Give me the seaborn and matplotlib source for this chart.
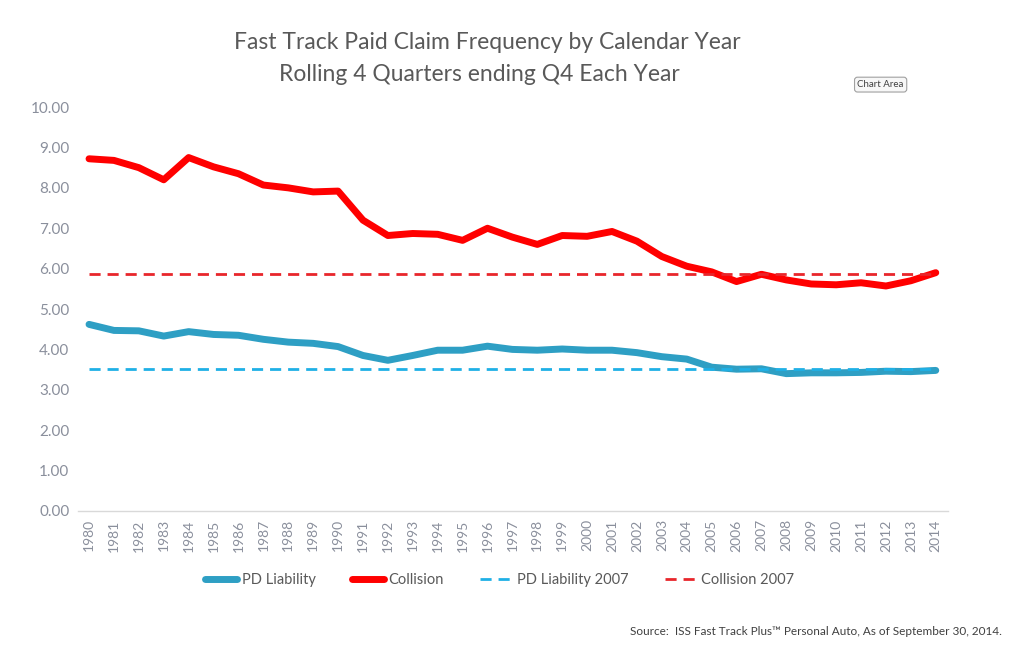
import pandas as pd
import matplotlib.pyplot as plt
import seaborn as sns

# ---- data ----
years = list(range(1980, 2015))
pd_liability = [4.62, 4.47, 4.46, 4.33, 4.44, 4.37, 4.35, 4.25, 4.18, 4.15,
                4.07, 3.85, 3.73, 3.85, 3.98, 3.98, 4.08, 4.00, 3.98, 4.01,
                3.98, 3.98, 3.92, 3.82, 3.76, 3.56, 3.51, 3.52, 3.40, 3.42,
                3.42, 3.43, 3.46, 3.45, 3.48]
collision = [8.72, 8.68, 8.50, 8.20, 8.75, 8.52, 8.35, 8.07, 8.00, 7.90,
             7.92, 7.20, 6.82, 6.87, 6.85, 6.70, 7.00, 6.78, 6.60, 6.82,
             6.80, 6.92, 6.68, 6.30, 6.06, 5.92, 5.68, 5.86, 5.72, 5.62,
             5.60, 5.65, 5.57, 5.70, 5.90]
pd_liability_2007 = 3.52
collision_2007 = 5.86

BLUE = "#2e9fc4"
RED = "#ff0000"
BLUE_DASH = "#1fb0e6"
RED_DASH = "#e8262b"
GRAY = "#8a8f9c"

sns.set_style("white")
plt.rcParams['font.family'] = ['Lato', 'DejaVu Sans']

df = pd.DataFrame({
    "x": range(len(years)),
    "PD Liability": pd_liability,
    "Collision": collision,
})
df["PD Liability 2007"] = pd_liability_2007
df["Collision 2007"] = collision_2007

fig = plt.figure(figsize=(10.24, 6.61), dpi=100)
ax = fig.add_axes([0.076, 0.227, 0.85, 0.611])

sns.lineplot(data=df, x="x", y="PD Liability", ax=ax, color=BLUE, lw=5,
             solid_capstyle="round", label="PD Liability")
sns.lineplot(data=df, x="x", y="Collision", ax=ax, color=RED, lw=5,
             solid_capstyle="round", label="Collision")
sns.lineplot(data=df, x="x", y="PD Liability 2007", ax=ax, color=BLUE_DASH, lw=2,
             label="PD Liability 2007").lines[-1].set_dashes([4, 2.5])
sns.lineplot(data=df, x="x", y="Collision 2007", ax=ax, color=RED_DASH, lw=2,
             label="Collision 2007").lines[-1].set_dashes([4, 2.5])

ax.set_xlim(-0.45, 34.5)
ax.set_ylim(0, 10)
ax.set_yticks([i for i in range(11)])
ax.set_yticklabels([f"{i:.2f}" for i in range(11)], color=GRAY, fontsize=11)
ax.set_xticks(range(len(years)))
ax.set_xticklabels([str(y) for y in years], rotation=90, color=GRAY, fontsize=10)
ax.tick_params(axis="both", length=0, pad=6)
ax.set_xlabel("")
ax.set_ylabel("")
for s in ["top", "right", "left"]:
    ax.spines[s].set_visible(False)
ax.spines["bottom"].set_color("#d9d9d9")
ax.spines["bottom"].set_linewidth(1)

handles, labels = ax.get_legend_handles_labels()
leg = ax.legend(handles, labels, loc="center", bbox_to_anchor=(0.485, -0.172),
                ncol=4, frameon=False, fontsize=10.5, handlelength=2.2,
                columnspacing=2.5, handletextpad=0.3)
for t in leg.get_texts():
    t.set_color("#595959")

fig.text(0.476, 0.935, "Fast Track Paid Claim Frequency by Calendar Year",
         ha="center", va="center", fontsize=16.5, color="#595959")
fig.text(0.468, 0.888, "Rolling 4 Quarters ending Q4 Each Year",
         ha="center", va="center", fontsize=16.5, color="#595959")
fig.text(0.86, 0.872, "Chart Area", ha="center", va="center", fontsize=7,
         color="#404040",
         bbox=dict(boxstyle="round,pad=0.3", fc="#f7f7f7", ec="#a0a0a0", lw=0.8))
fig.text(0.978, 0.045, "Source:  ISS Fast Track Plus\u2122 Personal Auto, As of September 30, 2014.",
         ha="right", va="center", fontsize=8.5, color="#404040")

fig.savefig("out.png", dpi=100)
